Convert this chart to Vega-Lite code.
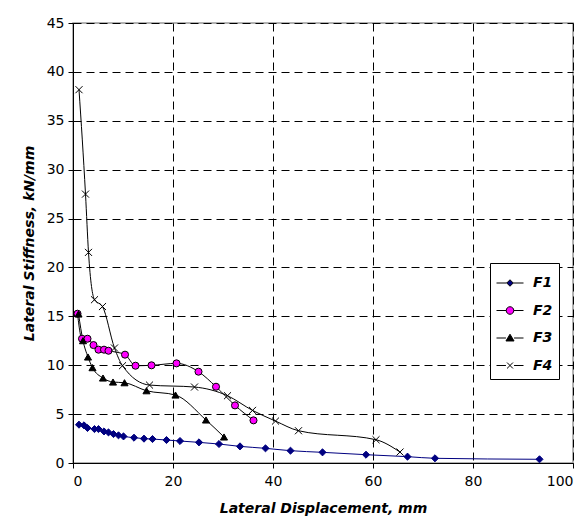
{
  "$schema": "https://vega.github.io/schema/vega-lite/v6.json",
  "width": 500,
  "height": 440,
  "autosize": "none",
  "padding": {"left": 73, "top": 23, "right": 14, "bottom": 59},
  "background": "white",
  "config": {
    "font": "DejaVu Sans",
    "view": {"stroke": "#999999", "strokeWidth": 1.5},
    "axis": {
      "labelFont": "DejaVu Sans",
      "labelFontSize": 14,
      "labelColor": "black",
      "titleFont": "DejaVu Sans",
      "titleFontSize": 14,
      "titleFontWeight": "bold",
      "titleFontStyle": "italic",
      "titleColor": "black",
      "domainColor": "black",
      "tickColor": "black",
      "tickSize": 5,
      "gridColor": "black",
      "gridDash": [8, 5],
      "gridWidth": 1,
      "gridOpacity": 1
    },
    "legend": {
      "title": null,
      "orient": "none",
      "legendX": 417,
      "legendY": 240,
      "strokeColor": "black",
      "fillColor": "white",
      "padding": 6,
      "rowPadding": 6.5,
      "symbolSize": 729,
      "labelFont": "DejaVu Sans",
      "labelFontSize": 14,
      "labelFontWeight": "bold",
      "labelFontStyle": "italic",
      "labelColor": "black",
      "labelOffset": 9,
      "symbolStrokeWidth": 1
    }
  },
  "data": {
    "values": [
      {"series": "F1", "x": 1.2, "y": 3.92},
      {"series": "F1", "x": 2.2, "y": 3.85},
      {"series": "F1", "x": 2.9, "y": 3.58},
      {"series": "F1", "x": 4.3, "y": 3.47},
      {"series": "F1", "x": 5.1, "y": 3.47},
      {"series": "F1", "x": 6.2, "y": 3.23},
      {"series": "F1", "x": 7.1, "y": 3.13},
      {"series": "F1", "x": 8.1, "y": 2.96},
      {"series": "F1", "x": 9.1, "y": 2.83},
      {"series": "F1", "x": 10.1, "y": 2.72},
      {"series": "F1", "x": 12.2, "y": 2.59},
      {"series": "F1", "x": 14.2, "y": 2.49},
      {"series": "F1", "x": 15.9, "y": 2.45},
      {"series": "F1", "x": 18.7, "y": 2.35},
      {"series": "F1", "x": 21.4, "y": 2.25},
      {"series": "F1", "x": 25.2, "y": 2.11},
      {"series": "F1", "x": 29.2, "y": 1.94},
      {"series": "F1", "x": 33.4, "y": 1.7},
      {"series": "F1", "x": 38.5, "y": 1.5},
      {"series": "F1", "x": 43.5, "y": 1.26},
      {"series": "F1", "x": 49.9, "y": 1.09},
      {"series": "F1", "x": 58.6, "y": 0.85},
      {"series": "F1", "x": 66.9, "y": 0.65},
      {"series": "F1", "x": 72.4, "y": 0.48},
      {"series": "F1", "x": 93.3, "y": 0.38},
      {"series": "F2", "x": 0.9, "y": 15.27},
      {"series": "F2", "x": 1.8, "y": 12.71},
      {"series": "F2", "x": 2.9, "y": 12.71},
      {"series": "F2", "x": 4.1, "y": 12.06},
      {"series": "F2", "x": 5.1, "y": 11.59},
      {"series": "F2", "x": 6.2, "y": 11.59},
      {"series": "F2", "x": 7.1, "y": 11.48},
      {"series": "F2", "x": 10.4, "y": 11.08},
      {"series": "F2", "x": 12.5, "y": 9.95},
      {"series": "F2", "x": 15.7, "y": 9.99},
      {"series": "F2", "x": 20.7, "y": 10.19},
      {"series": "F2", "x": 25.1, "y": 9.34},
      {"series": "F2", "x": 28.6, "y": 7.8},
      {"series": "F2", "x": 32.4, "y": 5.89},
      {"series": "F2", "x": 36.1, "y": 4.36},
      {"series": "F3", "x": 1.1, "y": 15.24},
      {"series": "F3", "x": 2.0, "y": 12.51},
      {"series": "F3", "x": 3.0, "y": 10.84},
      {"series": "F3", "x": 3.9, "y": 9.75},
      {"series": "F3", "x": 6.0, "y": 8.69},
      {"series": "F3", "x": 8.0, "y": 8.28},
      {"series": "F3", "x": 10.3, "y": 8.21},
      {"series": "F3", "x": 14.7, "y": 7.39},
      {"series": "F3", "x": 20.5, "y": 6.95},
      {"series": "F3", "x": 26.6, "y": 4.4},
      {"series": "F3", "x": 30.2, "y": 2.66},
      {"series": "F4", "x": 1.2, "y": 38.18},
      {"series": "F4", "x": 2.5, "y": 27.5},
      {"series": "F4", "x": 3.1, "y": 21.54},
      {"series": "F4", "x": 4.3, "y": 16.7},
      {"series": "F4", "x": 5.9, "y": 16.0},
      {"series": "F4", "x": 8.3, "y": 11.76},
      {"series": "F4", "x": 9.9, "y": 9.95},
      {"series": "F4", "x": 15.3, "y": 7.97},
      {"series": "F4", "x": 24.3, "y": 7.77},
      {"series": "F4", "x": 30.9, "y": 6.88},
      {"series": "F4", "x": 35.9, "y": 5.38},
      {"series": "F4", "x": 40.5, "y": 4.29},
      {"series": "F4", "x": 45.1, "y": 3.3},
      {"series": "F4", "x": 60.6, "y": 2.38},
      {"series": "F4", "x": 65.4, "y": 1.12}
    ]
  },
  "encoding": {
    "x": {
      "field": "x", "type": "quantitative",
      "scale": {"domain": [0, 100], "nice": false},
      "axis": {"values": [0, 20, 40, 60, 80, 100], "title": "Lateral Displacement, mm", "titlePadding": 13, "labelPadding": 6}
    },
    "y": {
      "field": "y", "type": "quantitative",
      "scale": {"domain": [0, 45], "nice": false},
      "axis": {"values": [0, 5, 10, 15, 20, 25, 30, 35, 40, 45], "title": "Lateral Stiffness, kN/mm", "titlePadding": 10, "labelPadding": 4}
    }
  },
  "layer": [
    {
      "mark": {"type": "line", "interpolate": "monotone", "strokeWidth": 1},
      "encoding": {
        "stroke": {
          "field": "series", "type": "nominal",
          "scale": {"domain": ["F1", "F2", "F3", "F4"], "range": ["#000080", "#000000", "#000000", "#000000"]},
          "legend": null
        }
      }
    },
    {
      "mark": {"type": "point", "filled": true, "opacity": 1, "strokeWidth": 1},
      "encoding": {
        "shape": {
          "field": "series", "type": "nominal",
          "scale": {"domain": ["F1", "F2", "F3", "F4"], "range": ["diamond", "circle", "triangle-up", "M-1,-1L1,1M-1,1L1,-1"]},
          "legend": null
        },
        "fill": {
          "field": "series", "type": "nominal",
          "scale": {"domain": ["F1", "F2", "F3", "F4"], "range": ["#000080", "#FF00FF", "#000000", "transparent"]},
          "legend": null
        },
        "stroke": {
          "field": "series", "type": "nominal",
          "scale": {"domain": ["F1", "F2", "F3", "F4"], "range": ["#000080", "#000000", "#000000", "#000000"]},
          "legend": null
        },
        "size": {
          "field": "series", "type": "nominal",
          "scale": {"domain": ["F1", "F2", "F3", "F4"], "range": [50, 50, 81, 36]},
          "legend": null
        }
      }
    },
    {
      "mark": {"type": "point", "filled": true, "opacity": 0, "stroke": "black", "strokeWidth": 1, "size": 729},
      "encoding": {
        "shape": {
          "field": "series", "type": "nominal",
          "scale": {"domain": ["F1", "F2", "F3", "F4"], "range": [
            "M-1,0H-0.24M0.24,0H1M0,-0.24L0.24,0L0,0.24L-0.24,0Z",
            "M-1,0H-0.28M0.28,0H1M0.28,0A0.28,0.28 0 1,1 -0.28,0A0.28,0.28 0 1,1 0.28,0Z",
            "M-1,0H-0.3M0.3,0H1M0,-0.28L0.3,0.22L-0.3,0.22Z",
            "M-1,0H-0.3M0.3,0H1M-0.22,-0.22L0.22,0.22M-0.22,0.22L0.22,-0.22"
          ]}
        },
        "color": {
          "field": "series", "type": "nominal",
          "scale": {"domain": ["F1", "F2", "F3", "F4"], "range": ["#000080", "#FF00FF", "#000000", "transparent"]}
        }
      }
    }
  ],
  "resolve": {"scale": {"color": "independent", "shape": "independent", "fill": "independent", "stroke": "independent", "size": "independent"}}
}
